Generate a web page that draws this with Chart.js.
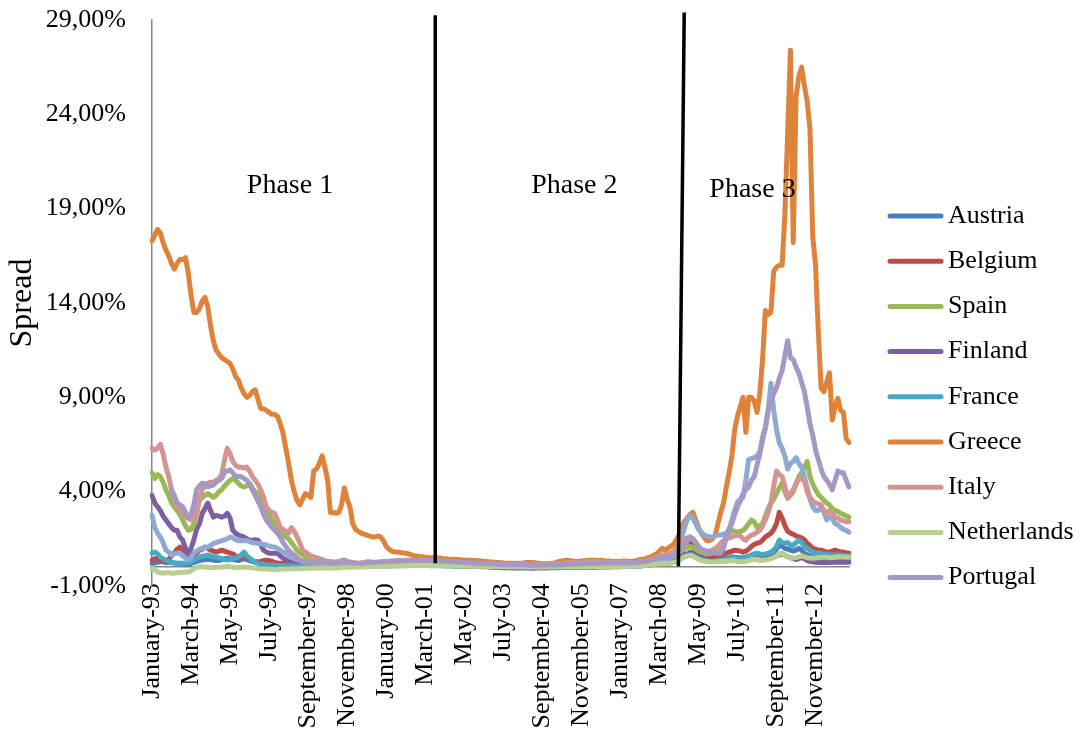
<!DOCTYPE html>
<html>
<head>
<meta charset="utf-8">
<title>Spread</title>
<script src="https://cdn.jsdelivr.net/npm/chart.js@4.4.0/dist/chart.umd.min.js"></script>
<style>
  html, body { margin: 0; padding: 0; background: #ffffff; }
  #wrap { width: 1082px; height: 738px; position: relative; }
</style>
</head>
<body>
<div id="wrap"><canvas id="chart"></canvas></div>
<script>
// Monthly 10-year spreads, January 1993 – November 2013 (percent)
const monthNames = ['January', 'February', 'March', 'April', 'May', 'June',
  'July', 'August', 'September', 'October', 'November', 'December'];
const firstYear = 1993;
const monthCount = 251;

// Labels printed on the category axis
const tickLabels = ['January-93', 'March-94', 'May-95', 'July-96', 'September-97',
  'November-98', 'January-00', 'March-01', 'May-02', 'July-03', 'September-04',
  'November-05', 'January-07', 'March-08', 'May-09', 'July-10', 'September-11',
  'November-12'];

const countries = ['Austria', 'Belgium', 'Spain', 'Finland', 'France', 'Greece',
  'Ireland', 'Italy', 'Netherlands', 'Portugal'];
const legendCountries = ['Austria', 'Belgium', 'Spain', 'Finland', 'France',
  'Greece', 'Italy', 'Netherlands', 'Portugal'];

const austria = [
  0.2, 0.22, 0.25, 0.3, 0.28, 0.26, 0.25, 0.24, 0.22, 0.2, 0.2, 0.18,
  0.15, 0.15, 0.2, 0.25, 0.3, 0.35, 0.37, 0.4, 0.42, 0.4, 0.37, 0.35,
  0.35, 0.4, 0.45, 0.48, 0.45, 0.4, 0.38, 0.35, 0.4, 0.45, 0.4, 0.35,
  0.3, 0.28, 0.26, 0.25, 0.22, 0.2, 0.2, 0.18, 0.16, 0.15, 0.14, 0.12,
  0.12, 0.11, 0.1, 0.1, 0.1, 0.1, 0.09, 0.09, 0.09, 0.09, 0.09, 0.08,
  0.08, 0.08, 0.08, 0.08, 0.08, 0.08, 0.08, 0.1, 0.14, 0.16, 0.14, 0.12,
  0.12, 0.11, 0.11, 0.12, 0.13, 0.14, 0.15, 0.15, 0.15, 0.16, 0.16, 0.17,
  0.18, 0.19, 0.2, 0.2, 0.21, 0.21, 0.21, 0.21, 0.22, 0.22, 0.22, 0.22,
  0.22, 0.22, 0.21, 0.2, 0.19, 0.18, 0.17, 0.16, 0.15, 0.14, 0.13, 0.12,
  0.11, 0.1, 0.09, 0.08, 0.08, 0.07, 0.07, 0.06, 0.06, 0.05, 0.05, 0.05,
  0.04, 0.04, 0.04, 0.03, 0.03, 0.03, 0.03, 0.03, 0.02, 0.02, 0.02, 0.02,
  0.02, 0.02, 0.02, 0.02, 0.02, 0.02, 0.02, 0.02, 0.02, 0.02, 0.02, 0.02,
  0.02, 0.02, 0.02, 0.02, 0.02, 0.02, 0.02, 0.02, 0.02, 0.02, 0.03, 0.03,
  0.03, 0.03, 0.03, 0.03, 0.04, 0.04, 0.04, 0.04, 0.04, 0.04, 0.05, 0.05,
  0.05, 0.05, 0.06, 0.06, 0.06, 0.07, 0.08, 0.09, 0.1, 0.12, 0.14, 0.16,
  0.2, 0.24, 0.28, 0.3, 0.3, 0.32, 0.35, 0.4, 0.45, 0.6, 0.8, 1.0,
  1.1, 1.2, 1.1, 0.9, 0.75, 0.65, 0.55, 0.5, 0.45, 0.42, 0.4, 0.4,
  0.42, 0.45, 0.48, 0.5, 0.55, 0.52, 0.5, 0.48, 0.5, 0.52, 0.58, 0.62,
  0.65, 0.68, 0.65, 0.62, 0.62, 0.65, 0.7, 0.8, 0.95, 1.2, 1.1, 1.0,
  0.95, 0.9, 0.85, 0.9, 1.0, 0.9, 0.75, 0.65, 0.58, 0.52, 0.5, 0.5,
  0.5, 0.48, 0.46, 0.45, 0.45, 0.44, 0.44, 0.43, 0.42, 0.42, 0.42
];

const belgium = [
  0.37, 0.45, 0.48, 0.4, 0.3, 0.26, 0.4, 0.6, 0.74, 0.95, 1.06, 0.9,
  0.74, 0.6, 0.48, 0.6, 0.75, 0.9, 0.95, 1.06, 1.0, 0.9, 0.85, 0.8,
  0.85, 0.9, 0.85, 0.8, 0.74, 0.7, 0.6, 0.5, 0.48, 0.5, 0.53, 0.45,
  0.35, 0.26, 0.28, 0.3, 0.35, 0.37, 0.35, 0.3, 0.25, 0.22, 0.2, 0.2,
  0.2, 0.18, 0.17, 0.16, 0.16, 0.15, 0.15, 0.15, 0.15, 0.15, 0.16, 0.15,
  0.15, 0.14, 0.13, 0.12, 0.12, 0.12, 0.13, 0.15, 0.2, 0.22, 0.2, 0.18,
  0.17, 0.16, 0.15, 0.15, 0.16, 0.17, 0.18, 0.18, 0.18, 0.19, 0.2, 0.21,
  0.22, 0.23, 0.24, 0.24, 0.25, 0.25, 0.25, 0.25, 0.26, 0.26, 0.27, 0.27,
  0.27, 0.27, 0.26, 0.25, 0.24, 0.23, 0.22, 0.2, 0.19, 0.18, 0.17, 0.16,
  0.15, 0.14, 0.13, 0.12, 0.11, 0.1, 0.1, 0.09, 0.09, 0.08, 0.08, 0.08,
  0.07, 0.07, 0.06, 0.06, 0.05, 0.05, 0.05, 0.05, 0.05, 0.04, 0.04, 0.04,
  0.04, 0.04, 0.04, 0.04, 0.03, 0.03, 0.03, 0.03, 0.03, 0.03, 0.03, 0.03,
  0.03, 0.03, 0.03, 0.03, 0.03, 0.03, 0.03, 0.03, 0.03, 0.03, 0.03, 0.04,
  0.04, 0.04, 0.04, 0.05, 0.05, 0.05, 0.05, 0.05, 0.05, 0.06, 0.06, 0.06,
  0.06, 0.07, 0.07, 0.08, 0.08, 0.1, 0.12, 0.15, 0.18, 0.2, 0.22, 0.25,
  0.3, 0.35, 0.4, 0.4, 0.4, 0.45, 0.5, 0.55, 0.6, 0.8, 1.0, 1.1,
  1.2, 1.27, 1.2, 1.0, 0.85, 0.8, 0.7, 0.6, 0.55, 0.53, 0.55, 0.6,
  0.62, 0.7, 0.74, 0.8, 0.85, 0.9, 0.88, 0.85, 0.8, 0.85, 0.95, 1.1,
  1.2, 1.27, 1.3, 1.43, 1.6, 1.7, 1.8, 2.0, 2.3, 2.9, 2.6, 2.2,
  1.9, 1.8, 1.75, 1.65, 1.6, 1.55, 1.45, 1.27, 1.15, 1.0, 0.95, 0.9,
  0.9, 0.85, 0.8, 0.8, 0.85, 0.9, 0.85, 0.8, 0.8, 0.76, 0.74
];

const spain = [
  5.0, 4.7, 4.9, 4.8, 4.5, 4.1, 3.8, 3.4, 3.2, 3.0, 2.8, 2.5,
  2.2, 1.95, 2.0, 2.3, 2.9, 3.55, 3.7, 3.8, 3.9, 3.8, 3.7, 3.8,
  4.0, 4.1, 4.3, 4.45, 4.6, 4.7, 4.6, 4.45, 4.3, 4.25, 4.3, 4.45,
  4.2, 4.0, 3.9, 3.6, 3.2, 3.0, 2.8, 2.5, 2.3, 2.1, 1.95, 1.8,
  1.6, 1.5, 1.3, 1.1, 0.9, 0.75, 0.65, 0.55, 0.5, 0.45, 0.4, 0.38,
  0.35, 0.3, 0.27, 0.25, 0.22, 0.2, 0.2, 0.22, 0.28, 0.3, 0.25, 0.22,
  0.2, 0.18, 0.17, 0.18, 0.2, 0.22, 0.22, 0.21, 0.2, 0.2, 0.2, 0.22,
  0.24, 0.25, 0.25, 0.26, 0.26, 0.27, 0.27, 0.26, 0.27, 0.28, 0.28, 0.27,
  0.27, 0.26, 0.26, 0.25, 0.25, 0.24, 0.23, 0.22, 0.2, 0.18, 0.17, 0.16,
  0.15, 0.14, 0.13, 0.12, 0.11, 0.1, 0.1, 0.09, 0.08, 0.07, 0.06, 0.05,
  0.05, 0.05, 0.04, 0.04, 0.04, 0.03, 0.03, 0.03, 0.03, 0.02, 0.02, 0.02,
  0.02, 0.02, 0.03, 0.03, 0.02, 0.02, 0.02, 0.01, 0.01, 0.01, 0.02, 0.02,
  0.02, 0.02, 0.02, 0.03, 0.03, 0.03, 0.02, 0.02, 0.02, 0.03, 0.03, 0.03,
  0.03, 0.03, 0.03, 0.03, 0.04, 0.04, 0.04, 0.05, 0.05, 0.05, 0.05, 0.06,
  0.06, 0.07, 0.07, 0.08, 0.08, 0.09, 0.1, 0.12, 0.14, 0.16, 0.18, 0.22,
  0.26, 0.3, 0.35, 0.4, 0.4, 0.45, 0.5, 0.55, 0.6, 0.75, 0.9, 1.0,
  1.05, 1.1, 1.06, 0.95, 0.85, 0.8, 0.75, 0.7, 0.72, 0.75, 0.8, 0.85,
  0.9, 1.2, 1.7, 1.8, 1.95, 1.9, 1.85, 1.9, 1.95, 2.1, 2.3, 2.5,
  2.4, 2.1, 2.2, 2.3, 2.7, 3.1, 3.4, 3.6, 3.9, 4.2, 4.45, 4.0,
  3.65, 3.8, 4.0, 4.4, 4.8, 5.0, 5.3, 5.6, 4.8, 4.4, 4.1, 3.85,
  3.7, 3.55, 3.4, 3.3, 3.1, 3.0, 2.95, 2.85, 2.8, 2.7, 2.65
];

const finland = [
  3.8, 3.4, 3.2, 3.0, 2.7, 2.5, 2.3, 2.1, 1.95, 1.95, 1.6, 1.43,
  1.0, 0.64, 1.0, 1.43, 2.0, 2.3, 2.85, 3.1, 3.4, 3.0, 2.65, 2.75,
  2.7, 2.65, 2.7, 2.85, 2.6, 1.95, 1.8, 1.7, 1.65, 1.6, 1.5, 1.43,
  1.43, 1.45, 1.43, 1.2, 0.9, 0.8, 0.74, 0.74, 0.74, 0.74, 0.6, 0.48,
  0.4, 0.3, 0.26, 0.22, 0.2, 0.2, 0.18, 0.17, 0.16, 0.15, 0.15, 0.14,
  0.13, 0.12, 0.12, 0.11, 0.1, 0.1, 0.1, 0.11, 0.15, 0.18, 0.15, 0.13,
  0.12, 0.1, 0.1, 0.1, 0.11, 0.12, 0.12, 0.12, 0.12, 0.12, 0.13, 0.14,
  0.15, 0.16, 0.16, 0.17, 0.17, 0.17, 0.18, 0.18, 0.18, 0.19, 0.2, 0.2,
  0.2, 0.2, 0.19, 0.18, 0.18, 0.17, 0.16, 0.15, 0.14, 0.13, 0.12, 0.1,
  0.1, 0.09, 0.08, 0.07, 0.06, 0.05, 0.04, 0.04, 0.03, 0.03, 0.02, 0.02,
  0.02, 0.01, 0.0, -0.01, -0.02, -0.02, -0.03, -0.03, -0.03, -0.04, -0.04, -0.04,
  -0.04, -0.05, -0.05, -0.05, -0.06, -0.06, -0.05, -0.05, -0.05, -0.04, -0.04, -0.03,
  -0.03, -0.03, -0.03, -0.02, -0.02, -0.02, -0.02, -0.02, -0.02, -0.01, -0.01, -0.01,
  -0.01, 0.0, 0.0, 0.0, 0.01, 0.01, 0.01, 0.01, 0.01, 0.02, 0.02, 0.02,
  0.02, 0.03, 0.03, 0.03, 0.03, 0.04, 0.05, 0.06, 0.07, 0.08, 0.1, 0.12,
  0.14, 0.16, 0.2, 0.2, 0.2, 0.22, 0.25, 0.28, 0.3, 0.4, 0.5, 0.65,
  0.7, 0.8, 0.75, 0.6, 0.5, 0.45, 0.4, 0.35, 0.35, 0.32, 0.3, 0.3,
  0.3, 0.32, 0.35, 0.4, 0.45, 0.4, 0.38, 0.35, 0.35, 0.36, 0.38, 0.4,
  0.42, 0.4, 0.38, 0.4, 0.42, 0.45, 0.5, 0.55, 0.6, 0.65, 0.7, 0.64,
  0.55, 0.5, 0.45, 0.4, 0.45, 0.5, 0.45, 0.35, 0.3, 0.28, 0.26, 0.25,
  0.25, 0.24, 0.24, 0.25, 0.26, 0.26, 0.26, 0.27, 0.26, 0.26, 0.26
];

const france = [
  0.74, 0.8, 0.7, 0.53, 0.45, 0.37, 0.3, 0.26, 0.22, 0.2, 0.2, 0.2,
  0.2, 0.22, 0.3, 0.37, 0.45, 0.53, 0.58, 0.6, 0.64, 0.6, 0.55, 0.53,
  0.5, 0.45, 0.4, 0.37, 0.4, 0.45, 0.5, 0.53, 0.65, 0.8, 0.6, 0.48,
  0.35, 0.25, 0.2, 0.18, 0.15, 0.12, 0.1, 0.1, 0.1, 0.08, 0.08, 0.07,
  0.07, 0.06, 0.06, 0.05, 0.05, 0.05, 0.04, 0.04, 0.04, 0.04, 0.04, 0.04,
  0.04, 0.04, 0.04, 0.04, 0.04, 0.04, 0.04, 0.05, 0.06, 0.07, 0.06, 0.06,
  0.05, 0.05, 0.05, 0.05, 0.05, 0.05, 0.05, 0.05, 0.05, 0.05, 0.06, 0.06,
  0.06, 0.06, 0.07, 0.07, 0.07, 0.07, 0.07, 0.07, 0.08, 0.08, 0.08, 0.08,
  0.08, 0.08, 0.08, 0.08, 0.07, 0.07, 0.07, 0.07, 0.07, 0.06, 0.06, 0.06,
  0.05, 0.05, 0.05, 0.04, 0.04, 0.04, 0.04, 0.03, 0.03, 0.03, 0.03, 0.03,
  0.03, 0.02, 0.02, 0.02, 0.01, 0.01, 0.01, 0.01, 0.01, 0.01, 0.01, 0.01,
  0.01, 0.01, 0.0, 0.0, 0.0, 0.0, 0.0, 0.0, 0.0, 0.0, 0.01, 0.01,
  0.01, 0.01, 0.01, 0.01, 0.01, 0.01, 0.01, 0.01, 0.01, 0.01, 0.02, 0.02,
  0.02, 0.02, 0.02, 0.02, 0.03, 0.03, 0.03, 0.03, 0.03, 0.03, 0.04, 0.04,
  0.04, 0.04, 0.04, 0.05, 0.05, 0.05, 0.06, 0.07, 0.08, 0.09, 0.1, 0.12,
  0.14, 0.16, 0.18, 0.2, 0.2, 0.22, 0.25, 0.28, 0.3, 0.4, 0.5, 0.55,
  0.6, 0.64, 0.6, 0.5, 0.45, 0.4, 0.35, 0.32, 0.3, 0.3, 0.32, 0.35,
  0.37, 0.4, 0.42, 0.45, 0.5, 0.48, 0.45, 0.42, 0.45, 0.48, 0.55, 0.64,
  0.7, 0.74, 0.7, 0.68, 0.7, 0.74, 0.8, 0.9, 1.1, 1.43, 1.3, 1.27,
  1.3, 1.17, 1.15, 1.3, 1.43, 1.3, 1.1, 1.0, 0.9, 0.8, 0.75, 0.74,
  0.72, 0.7, 0.68, 0.66, 0.66, 0.65, 0.64, 0.64, 0.62, 0.6, 0.6
];

const greece = [
  17.3, 17.6, 17.9, 17.7, 17.2, 16.8, 16.5, 16.1, 15.8, 16.1, 16.3, 16.3,
  16.4, 15.6, 14.4, 13.5, 13.5, 13.7, 14.1, 14.3, 13.8, 12.8, 12.0, 11.5,
  11.3, 11.1, 11.0, 10.9, 10.8, 10.5, 10.1, 9.9, 9.5, 9.2, 9.0, 9.1,
  9.3, 9.4, 8.9, 8.4, 8.4, 8.3, 8.2, 8.1, 8.1, 8.0, 7.6, 7.1,
  6.3, 5.5, 4.6, 4.0, 3.55, 3.3, 3.6, 3.9, 3.8, 3.7, 5.1, 5.2,
  5.5, 5.9, 5.3, 4.6, 2.9, 2.9, 2.85, 2.9, 3.3, 4.2, 3.6, 3.2,
  2.3, 2.0, 1.9, 1.8, 1.75, 1.7, 1.65, 1.6, 1.6, 1.65, 1.6, 1.4,
  1.1, 0.95, 0.85, 0.8, 0.8, 0.78, 0.75, 0.74, 0.7, 0.65, 0.6, 0.58,
  0.55, 0.55, 0.52, 0.5, 0.5, 0.5, 0.5, 0.48, 0.46, 0.45, 0.43, 0.42,
  0.42, 0.4, 0.4, 0.38, 0.38, 0.36, 0.36, 0.35, 0.35, 0.34, 0.32, 0.3,
  0.3, 0.28, 0.27, 0.26, 0.25, 0.24, 0.22, 0.2, 0.2, 0.2, 0.19, 0.2,
  0.2, 0.22, 0.24, 0.25, 0.24, 0.23, 0.22, 0.2, 0.18, 0.18, 0.17, 0.18,
  0.2, 0.25, 0.3, 0.32, 0.35, 0.36, 0.34, 0.32, 0.3, 0.3, 0.32, 0.34,
  0.35, 0.36, 0.38, 0.36, 0.35, 0.36, 0.34, 0.33, 0.32, 0.3, 0.3, 0.3,
  0.3, 0.32, 0.33, 0.3, 0.3, 0.32, 0.35, 0.4, 0.42, 0.45, 0.5, 0.55,
  0.64, 0.7, 0.85, 1.0, 0.9, 1.0, 1.1, 1.2, 1.43, 1.7, 2.2, 2.4,
  2.6, 2.8, 2.9, 2.5, 2.1, 1.8, 1.6, 1.4, 1.4, 1.5, 1.7, 2.3,
  2.9, 3.4, 4.25, 5.0, 5.9, 7.3, 8.0, 8.5, 9.0, 7.15, 9.0, 9.0,
  8.8, 8.2, 9.2, 11.0, 13.6, 13.4, 13.5, 15.7, 15.9, 16.0, 16.0, 18.7,
  23.0, 27.4, 17.2, 24.9, 26.0, 26.5, 25.5, 24.7, 23.2, 17.5, 16.0, 12.5,
  9.5, 9.3, 9.8, 10.3, 7.8, 8.5, 8.95, 8.3, 8.2, 6.8, 6.6
];

const ireland = [
  2.75, 2.1, 1.8, 1.6, 1.3, 0.9, 0.8, 0.64, 0.7, 0.74, 0.74, 0.6,
  0.5, 0.37, 0.5, 0.74, 0.85, 0.95, 1.0, 1.03, 1.06, 1.15, 1.25, 1.3,
  1.35, 1.4, 1.45, 1.5, 1.6, 1.55, 1.45, 1.4, 1.4, 1.4, 1.4, 1.35,
  1.3, 1.28, 1.27, 1.25, 1.2, 1.17, 1.12, 1.08, 1.06, 1.0, 0.9, 0.8,
  0.74, 0.6, 0.53, 0.46, 0.4, 0.37, 0.33, 0.3, 0.28, 0.25, 0.24, 0.22,
  0.2, 0.19, 0.18, 0.17, 0.16, 0.15, 0.15, 0.16, 0.2, 0.22, 0.2, 0.18,
  0.15, 0.14, 0.13, 0.13, 0.14, 0.15, 0.16, 0.16, 0.16, 0.17, 0.17, 0.18,
  0.18, 0.19, 0.2, 0.2, 0.21, 0.21, 0.21, 0.22, 0.22, 0.22, 0.23, 0.23,
  0.23, 0.22, 0.22, 0.21, 0.2, 0.19, 0.18, 0.17, 0.16, 0.15, 0.14, 0.13,
  0.12, 0.11, 0.1, 0.09, 0.08, 0.07, 0.07, 0.06, 0.06, 0.05, 0.05, 0.05,
  0.04, 0.04, 0.04, 0.04, 0.03, 0.03, 0.03, 0.03, 0.02, 0.02, 0.02, 0.02,
  0.02, 0.02, 0.02, 0.02, 0.02, 0.02, 0.02, 0.02, 0.02, 0.02, 0.02, 0.02,
  0.02, 0.02, 0.02, 0.02, 0.02, 0.02, 0.02, 0.02, 0.02, 0.03, 0.03, 0.03,
  0.03, 0.03, 0.04, 0.04, 0.04, 0.04, 0.04, 0.04, 0.04, 0.04, 0.05, 0.05,
  0.05, 0.05, 0.06, 0.06, 0.07, 0.07, 0.08, 0.1, 0.12, 0.14, 0.16, 0.2,
  0.25, 0.3, 0.4, 0.4, 0.4, 0.45, 0.55, 0.65, 0.8, 1.2, 1.6, 2.1,
  2.5, 2.75, 2.6, 2.3, 2.0, 1.85, 1.7, 1.65, 1.6, 1.6, 1.65, 1.7,
  1.7, 1.75, 1.8, 2.0, 2.5, 3.0, 3.45, 3.6, 3.7, 4.6, 5.7, 5.75,
  5.8, 5.9, 6.1, 6.7, 7.4, 8.3, 9.75, 8.3, 7.3, 6.6, 6.3, 5.9,
  5.2, 5.5, 5.6, 5.8, 5.5, 5.3, 4.8, 4.2, 3.6, 3.2, 3.0, 3.0,
  3.2, 2.9, 2.5, 2.65, 2.6, 2.3, 2.25, 2.1, 2.0, 1.95, 1.85
];

const italy = [
  6.3, 6.2, 6.3, 6.5, 6.0, 5.3, 4.8, 4.1, 3.6, 3.2, 3.0, 2.9,
  2.7, 2.6, 2.5, 2.6, 2.85, 3.6, 4.1, 4.3, 4.45, 4.5, 4.5, 4.6,
  4.7, 4.9, 5.7, 6.3, 6.0, 5.6, 5.4, 5.3, 5.3, 5.25, 5.3, 5.1,
  4.8, 4.6, 4.4, 4.1, 3.7, 3.2, 3.0, 2.9, 2.85, 2.5, 2.1, 2.0,
  1.9, 1.8, 2.1, 1.9, 1.6, 1.3, 0.9, 0.8, 0.7, 0.6, 0.55, 0.5,
  0.45, 0.4, 0.35, 0.3, 0.3, 0.28, 0.27, 0.3, 0.35, 0.38, 0.3, 0.28,
  0.25, 0.22, 0.2, 0.22, 0.25, 0.28, 0.28, 0.26, 0.25, 0.24, 0.25, 0.27,
  0.3, 0.3, 0.3, 0.32, 0.32, 0.33, 0.33, 0.32, 0.33, 0.34, 0.35, 0.34,
  0.35, 0.36, 0.36, 0.35, 0.36, 0.37, 0.36, 0.35, 0.33, 0.32, 0.3, 0.3,
  0.3, 0.28, 0.27, 0.26, 0.25, 0.24, 0.22, 0.21, 0.2, 0.2, 0.2, 0.2,
  0.2, 0.19, 0.18, 0.17, 0.16, 0.15, 0.15, 0.14, 0.14, 0.15, 0.15, 0.16,
  0.16, 0.15, 0.14, 0.13, 0.13, 0.14, 0.14, 0.15, 0.16, 0.17, 0.18, 0.2,
  0.2, 0.2, 0.18, 0.17, 0.2, 0.24, 0.25, 0.24, 0.23, 0.24, 0.25, 0.27,
  0.28, 0.29, 0.3, 0.28, 0.27, 0.27, 0.26, 0.26, 0.25, 0.25, 0.25, 0.25,
  0.25, 0.26, 0.27, 0.25, 0.24, 0.25, 0.27, 0.3, 0.32, 0.33, 0.35, 0.4,
  0.45, 0.5, 0.6, 0.65, 0.6, 0.7, 0.75, 0.85, 1.0, 1.2, 1.4, 1.5,
  1.55, 1.6, 1.5, 1.3, 1.1, 0.9, 0.85, 0.8, 0.85, 0.9, 1.0, 1.1,
  1.27, 1.4, 1.5, 1.55, 1.6, 1.65, 1.7, 1.65, 1.5, 1.43, 1.6, 1.7,
  1.75, 1.85, 1.95, 2.2, 2.5, 2.9, 3.4, 4.3, 5.1, 4.9, 4.8, 4.3,
  3.65, 3.9, 4.1, 4.4, 4.7, 4.65, 4.6, 4.0, 3.7, 3.5, 3.4, 3.35,
  3.3, 3.0, 2.85, 3.0, 2.9, 2.65, 2.6, 2.5, 2.45, 2.4, 2.4
];

const netherlands = [
  -0.05, -0.15, -0.25, -0.3, -0.32, -0.3, -0.3, -0.32, -0.32, -0.3, -0.28, -0.27,
  -0.26, -0.26, -0.2, -0.1, 0.0, 0.02, 0.02, 0.0, 0.0, -0.02, -0.02, 0.0,
  0.0, 0.0, 0.02, 0.03, 0.02, 0.0, -0.02, -0.02, -0.01, 0.0, 0.0, -0.02,
  -0.04, -0.06, -0.08, -0.1, -0.1, -0.1, -0.11, -0.12, -0.12, -0.12, -0.1, -0.1,
  -0.1, -0.1, -0.09, -0.08, -0.08, -0.07, -0.07, -0.06, -0.06, -0.06, -0.05, -0.05,
  -0.05, -0.05, -0.04, -0.04, -0.04, -0.04, -0.04, -0.03, -0.02, 0.0, 0.0, 0.0,
  0.0, 0.0, 0.01, 0.01, 0.02, 0.02, 0.03, 0.03, 0.03, 0.04, 0.04, 0.05,
  0.05, 0.06, 0.06, 0.07, 0.07, 0.07, 0.08, 0.08, 0.08, 0.08, 0.09, 0.09,
  0.09, 0.09, 0.09, 0.09, 0.09, 0.09, 0.09, 0.08, 0.08, 0.08, 0.07, 0.07,
  0.07, 0.07, 0.07, 0.06, 0.06, 0.06, 0.06, 0.06, 0.05, 0.05, 0.05, 0.05,
  0.05, 0.04, 0.04, 0.04, 0.04, 0.04, 0.03, 0.03, 0.03, 0.03, 0.03, 0.03,
  0.03, 0.03, 0.03, 0.02, 0.02, 0.02, 0.02, 0.02, 0.02, 0.02, 0.02, 0.02,
  0.02, 0.02, 0.02, 0.02, 0.02, 0.02, 0.02, 0.02, 0.02, 0.02, 0.02, 0.02,
  0.02, 0.03, 0.03, 0.03, 0.03, 0.03, 0.03, 0.03, 0.03, 0.04, 0.04, 0.04,
  0.04, 0.04, 0.04, 0.05, 0.05, 0.05, 0.06, 0.07, 0.08, 0.09, 0.1, 0.12,
  0.14, 0.16, 0.18, 0.18, 0.18, 0.2, 0.22, 0.24, 0.28, 0.35, 0.45, 0.55,
  0.6, 0.64, 0.6, 0.5, 0.42, 0.36, 0.32, 0.3, 0.28, 0.27, 0.27, 0.28,
  0.3, 0.3, 0.32, 0.33, 0.35, 0.33, 0.3, 0.28, 0.28, 0.3, 0.35, 0.4,
  0.42, 0.4, 0.38, 0.37, 0.38, 0.4, 0.45, 0.5, 0.6, 0.7, 0.74, 0.65,
  0.55, 0.5, 0.48, 0.5, 0.55, 0.6, 0.55, 0.5, 0.48, 0.47, 0.48, 0.5,
  0.52, 0.53, 0.53, 0.5, 0.5, 0.52, 0.54, 0.55, 0.54, 0.53, 0.53
];

const portugal = [
  null, null, null, null, null, null, null, 4.1, 3.8, 3.4, 3.3, 3.2,
  2.9, 2.6, 2.8, 3.3, 4.1, 4.3, 4.45, 4.4, 4.25, 4.3, 4.35, 4.5,
  4.6, 4.7, 5.0, 5.1, 5.15, 5.0, 4.8, 4.8, 4.8, 4.7, 4.6, 4.4,
  4.1, 3.8, 3.5, 3.2, 2.8, 2.5, 2.3, 2.1, 1.95, 1.8, 1.6, 1.3,
  1.1, 0.9, 0.75, 0.64, 0.5, 0.37, 0.3, 0.26, 0.23, 0.2, 0.2, 0.22,
  0.28, 0.37, 0.3, 0.26, 0.22, 0.2, 0.2, 0.2, 0.25, 0.3, 0.25, 0.22,
  0.2, 0.2, 0.2, 0.21, 0.22, 0.24, 0.25, 0.25, 0.26, 0.27, 0.28, 0.3,
  0.3, 0.31, 0.32, 0.33, 0.34, 0.34, 0.35, 0.35, 0.36, 0.36, 0.37, 0.37,
  0.37, 0.37, 0.37, 0.37, 0.36, 0.36, 0.35, 0.34, 0.33, 0.32, 0.3, 0.3,
  0.29, 0.28, 0.27, 0.26, 0.25, 0.24, 0.23, 0.22, 0.21, 0.2, 0.2, 0.2,
  0.19, 0.18, 0.17, 0.16, 0.15, 0.14, 0.13, 0.12, 0.12, 0.12, 0.12, 0.12,
  0.12, 0.12, 0.11, 0.1, 0.1, 0.1, 0.1, 0.11, 0.11, 0.11, 0.12, 0.12,
  0.12, 0.13, 0.13, 0.13, 0.14, 0.15, 0.16, 0.17, 0.17, 0.18, 0.18, 0.19,
  0.2, 0.2, 0.21, 0.21, 0.21, 0.22, 0.22, 0.22, 0.22, 0.22, 0.22, 0.22,
  0.22, 0.22, 0.22, 0.22, 0.22, 0.23, 0.24, 0.26, 0.28, 0.3, 0.33, 0.36,
  0.4, 0.45, 0.5, 0.5, 0.5, 0.55, 0.6, 0.65, 0.7, 0.85, 1.0, 1.2,
  1.4, 1.6, 1.5, 1.3, 1.1, 0.95, 0.9, 0.85, 0.8, 0.78, 0.76, 0.74,
  0.74, 1.0, 1.6, 2.0, 2.3, 2.8, 3.2, 3.5, 3.9, 4.1, 4.25, 4.6,
  4.8, 5.4, 6.0, 6.9, 7.4, 8.3, 8.8, 9.2, 9.5, 10.0, 10.4, 11.2,
  12.0, 11.1, 11.0, 10.6, 10.3, 9.8, 9.3, 8.5, 7.6, 7.0, 6.2, 5.7,
  5.2, 4.8, 4.6, 4.4, 4.1, 4.6, 5.1, 5.0, 5.0, 4.6, 4.25
];

const seriesValues = [austria, belgium, spain, finland, france, greece,
  ireland, italy, netherlands, portugal];

const seriesColors = ['#4A7EBB', '#BE4B48', '#98B954', '#7D60A0', '#46AAC5',
  '#DE8339', '#8EAAD2', '#D39492', '#B9CF91', '#A698C4'];

// Category labels: "January-93" ... "November-13"
const categories = [];
for (let i = 0; i < monthCount; i++) {
  const y = firstYear + Math.floor(i / 12);
  categories.push(monthNames[i % 12] + '-' + String(y % 100).padStart(2, '0'));
}

const serif = "'Liberation Serif', 'Times New Roman', serif";

// Phase separators and captions, given in data coordinates (month index, percent)
const phasePlugin = {
  id: 'phases',
  afterDatasetsDraw(chart, args, opts) {
    const {ctx, scales: {x, y}} = chart;
    ctx.save();
    ctx.strokeStyle = opts.lineColor;
    ctx.lineWidth = opts.lineWidth;
    ctx.lineCap = 'butt';
    opts.lines.forEach(l => {
      ctx.beginPath();
      ctx.moveTo(x.getPixelForValue(l.topIndex), y.getPixelForValue(l.topValue));
      ctx.lineTo(x.getPixelForValue(l.bottomIndex), y.getPixelForValue(l.bottomValue));
      ctx.stroke();
    });
    ctx.fillStyle = opts.textColor;
    ctx.font = opts.font;
    ctx.textAlign = 'center';
    ctx.textBaseline = 'middle';
    opts.captions.forEach(c => {
      ctx.fillText(c.text, x.getPixelForValue(c.index), y.getPixelForValue(c.value));
    });
    ctx.restore();
  }
};

// Legend column on the right: line swatch followed by the country name
const sideLegend = {
  id: 'sideLegend',
  afterDraw(chart, args, opts) {
    const {ctx, chartArea} = chart;
    ctx.save();
    ctx.font = opts.font;
    ctx.textAlign = 'left';
    ctx.textBaseline = 'middle';
    let row = 0;
    chart.data.datasets.forEach(ds => {
      if (!opts.names.includes(ds.label)) return;
      const yy = opts.top + row * opts.rowGap;
      const x0 = chartArea.right + opts.offset;
      ctx.strokeStyle = ds.borderColor;
      ctx.lineWidth = opts.swatchWidth;
      ctx.lineCap = 'round';
      ctx.beginPath();
      ctx.moveTo(x0 + 2, yy);
      ctx.lineTo(x0 + opts.swatchLength - 2, yy);
      ctx.stroke();
      ctx.fillStyle = '#000000';
      ctx.fillText(ds.label, x0 + opts.swatchLength + opts.textGap, yy);
      row++;
    });
    ctx.restore();
  }
};

const datasets = countries.map((name, k) => ({
  label: name,
  data: seriesValues[k],
  borderColor: seriesColors[k],
  backgroundColor: seriesColors[k],
  borderWidth: 5,
  pointRadius: 0,
  pointHoverRadius: 0,
  tension: 0,
  fill: false,
  spanGaps: false,
  borderJoinStyle: 'round',
  borderCapStyle: 'round',
  order: countries.length - k
}));

new Chart(document.getElementById('chart'), {
  type: 'line',
  data: { labels: categories, datasets },
  plugins: [phasePlugin, sideLegend],
  options: {
    responsive: true,
    maintainAspectRatio: false,
    animation: false,
    events: [],
    layout: { padding: { left: 0, top: 20, right: 233, bottom: 152 } },
    plugins: {
      legend: { display: false },
      tooltip: { enabled: false },
      phases: {
        lineColor: '#000000',
        lineWidth: 3.5,
        textColor: '#000000',
        font: '28px ' + serif,
        lines: [
          { topIndex: 101.6, topValue: 29.25, bottomIndex: 101.6, bottomValue: 0.2 },
          { topIndex: 190.9, topValue: 29.4, bottomIndex: 188.8, bottomValue: 0.05 }
        ],
        captions: [
          { text: 'Phase 1', index: 49.5, value: 20.2 },
          { text: 'Phase 2', index: 151.5, value: 20.2 },
          { text: 'Phase 3', index: 215.4, value: 20.0 }
        ]
      },
      sideLegend: {
        names: legendCountries,
        font: '26px ' + serif,
        offset: 39,
        top: 216,
        rowGap: 45.2,
        swatchLength: 55,
        swatchWidth: 5,
        textGap: 5
      }
    },
    scales: {
      x: {
        type: 'category',
        axis: 'x',
        position: { y: 0 },
        offset: false,
        grid: { display: false, drawTicks: false },
        border: { display: true, color: '#868686', width: 1.5 },
        ticks: {
          autoSkip: false,
          maxRotation: 90,
          minRotation: 90,
          padding: 16,
          color: '#000000',
          font: { family: serif, size: 26 },
          callback: function (value) {
            const lab = this.getLabelForValue(value);
            return tickLabels.includes(lab) ? lab : null;
          }
        }
      },
      y: {
        type: 'linear',
        min: -1,
        max: 29,
        afterFit: (scale) => {
          scale.width = 152;
          scale.paddingTop = 0;
          scale.paddingBottom = 0;
        },
        grid: { display: false, drawTicks: false },
        border: { display: true, color: '#868686', width: 1.5 },
        ticks: {
          stepSize: 5,
          padding: 26,
          color: '#000000',
          font: { family: serif, size: 26 },
          callback: (v) => v.toFixed(2).replace('.', ',') + '%'
        },
        title: {
          display: true,
          text: 'Spread',
          color: '#000000',
          font: { family: serif, size: 32 },
          padding: { top: 3, bottom: 0 }
        }
      }
    }
  }
});
</script>
</body>
</html>
